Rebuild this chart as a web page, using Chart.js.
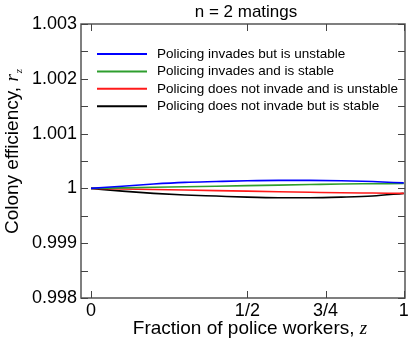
<!DOCTYPE html>
<html>
<head>
<meta charset="utf-8">
<script src="https://cdn.jsdelivr.net/npm/chart.js@4"></script>
<style>
  html, body { margin: 0; padding: 0; background: #fff; }
  #wrap { width: 415px; height: 342px; position: relative; }
</style>
</head>
<body>
<div id="wrap"><canvas id="chart"></canvas></div>
<script>
// fraction of police workers z
const zValues = [0, 0.1, 0.2, 0.3, 0.4, 0.5, 0.6, 0.7, 0.8, 0.9, 1];

const invadesUnstable   = [1, 1.00004, 1.00008, 1.00011, 1.000126, 1.00014, 1.000147, 1.000146, 1.00014, 1.000125, 1.0001];
const invadesStable     = [1, 1.00001, 1.00002, 1.00003, 1.00004, 1.00005, 1.00006, 1.00007, 1.00008, 1.000085, 1.00009];
const notInvadeUnstable = [1, 0.99999, 0.99998, 0.99997, 0.99996, 0.99995, 0.99994, 0.99993, 0.99992, 0.999915, 0.99991];
const notInvadeStable   = [1, 0.99995, 0.99991, 0.99988, 0.99986, 0.99984, 0.99983, 0.99983, 0.99984, 0.99986, 0.99991];

const seriesLabels = [
    "Policing invades but is unstable",
    "Policing invades and is stable",
    "Policing does not invade and is unstable",
    "Policing does not invade but is stable"
];
const seriesColors = ["#0000ff", "#2e9e2e", "#ff1a1a", "#000000"];

const xTicks = [0, 0.5, 0.75, 1];
const xTickLabels = ["0", "1/2", "3/4", "1"];
const yTicks = [0.998, 0.999, 1, 1.001, 1.002, 1.003];
const yTickLabels = ["0.998", "0.999", "1", "1.001", "1.002", "1.003"];
const yMinorTicks = [0.9985, 0.9995, 1.0005, 1.0015, 1.0025];

const FONT = "'Liberation Sans', Arial, Helvetica, sans-serif";
const SERIF_I = '"Liberation Serif", "Times New Roman", serif';

function toPoints(vals) {
    return vals.map((v, i) => ({ x: zValues[i], y: v }));
}

// frame, inward ticks, title, axis titles, legend inside the plot
const decorations = {
    id: 'decorations',
    afterDraw(chart) {
        const ctx = chart.ctx;
        const a = chart.chartArea;
        const xs = chart.scales.x, ys = chart.scales.y;
        ctx.save();

        // frame
        ctx.strokeStyle = '#555';
        ctx.lineWidth = 1.5;
        ctx.strokeRect(a.left, a.top, a.right - a.left, a.bottom - a.top);

        // inward ticks
        ctx.lineWidth = 1;
        ctx.strokeStyle = '#444';
        ctx.beginPath();
        xTicks.forEach(t => {
            const px = Math.round(xs.getPixelForValue(t)) + 0.5;
            ctx.moveTo(px, a.bottom); ctx.lineTo(px, a.bottom - 7);
            ctx.moveTo(px, a.top); ctx.lineTo(px, a.top + 7);
        });
        yTicks.concat(yMinorTicks).forEach(t => {
            const py = Math.round(ys.getPixelForValue(t)) + 0.5;
            ctx.moveTo(a.left, py); ctx.lineTo(a.left + 7, py);
            ctx.moveTo(a.right, py); ctx.lineTo(a.right - 7, py);
        });
        ctx.stroke();

        // title
        ctx.fillStyle = '#000';
        ctx.font = '17px ' + FONT;
        ctx.textAlign = 'center';
        ctx.textBaseline = 'alphabetic';
        ctx.fillText('n = 2 matings', 246, 17);

        // x axis title with italic z
        ctx.textAlign = 'left';
        ctx.font = '19px ' + FONT;
        const xt1 = 'Fraction of police workers, ';
        const w1 = ctx.measureText(xt1).width;
        ctx.font = 'italic 19px ' + SERIF_I;
        const w2 = ctx.measureText('z').width;
        const sx = 250 - (w1 + w2) / 2;
        ctx.font = '19px ' + FONT;
        ctx.fillText(xt1, sx, 334);
        ctx.font = 'italic 19px ' + SERIF_I;
        ctx.fillText('z', sx + w1, 334);

        // y axis title rotated, with italic r and subscript z
        ctx.translate(18, 152);
        ctx.rotate(-Math.PI / 2);
        ctx.font = '19px ' + FONT;
        const yt = 'Colony efficiency, ';
        const yw = ctx.measureText(yt).width;
        ctx.font = 'italic 19px ' + SERIF_I;
        const rw = ctx.measureText('r').width;
        ctx.font = 'italic 11px ' + SERIF_I;
        const zw = ctx.measureText('z').width;
        const sy = -(yw + rw + zw) / 2;
        ctx.font = '19px ' + FONT;
        ctx.fillText(yt, sy, 0);
        ctx.font = 'italic 19px ' + SERIF_I;
        ctx.fillText('r', sy + yw, 0);
        ctx.font = 'italic 11px ' + SERIF_I;
        ctx.fillText('z', sy + yw + rw + 1, 4);
        ctx.setTransform(1, 0, 0, 1, 0, 0);

        // legend
        ctx.font = '13.5px ' + FONT;
        ctx.textAlign = 'left';
        ctx.textBaseline = 'middle';
        ctx.lineWidth = 2;
        seriesLabels.forEach((lab, i) => {
            const y = 54 + i * 17.4;
            ctx.strokeStyle = seriesColors[i];
            ctx.beginPath();
            ctx.moveTo(97, y); ctx.lineTo(147, y);
            ctx.stroke();
            ctx.fillStyle = '#000';
            ctx.fillText(lab, 157, y);
        });

        ctx.restore();
    }
};

new Chart(document.getElementById('chart'), {
    type: 'line',
    data: {
        datasets: seriesLabels.map((lab, i) => ({
            label: lab,
            data: toPoints([invadesUnstable, invadesStable, notInvadeUnstable, notInvadeStable][i]),
            borderColor: seriesColors[i],
            backgroundColor: seriesColors[i],
            borderWidth: 1.6,
            pointRadius: 0,
            cubicInterpolationMode: 'monotone'
        }))
    },
    options: {
        responsive: true,
        maintainAspectRatio: false,
        animation: false,
        layout: { padding: { top: 24, right: 10, left: 0, bottom: 0 } },
        plugins: {
            legend: { display: false },
            tooltip: { enabled: false }
        },
        scales: {
            x: {
                type: 'linear',
                min: -0.032,
                max: 1.004,
                afterBuildTicks: s => { s.ticks = xTicks.map(v => ({ value: v })); },
                afterFit: s => { s.height = 44; },
                ticks: {
                    autoSkip: false,
                    maxRotation: 0,
                    padding: 2,
                    color: '#000',
                    font: { family: FONT, size: 18 },
                    callback: v => xTickLabels[xTicks.indexOf(v)]
                },
                grid: { display: false, drawTicks: false, tickLength: 0 },
                border: { display: false }
            },
            y: {
                min: 0.998,
                max: 1.003,
                afterBuildTicks: s => { s.ticks = yTicks.map(v => ({ value: v })); },
                afterFit: s => { s.width = 81; },
                ticks: {
                    autoSkip: false,
                    padding: 4,
                    color: '#000',
                    font: { family: FONT, size: 18 },
                    callback: v => yTickLabels[yTicks.indexOf(v)]
                },
                grid: { display: false, drawTicks: false, tickLength: 0 },
                border: { display: false }
            }
        }
    },
    plugins: [decorations]
});
</script>
</body>
</html>
